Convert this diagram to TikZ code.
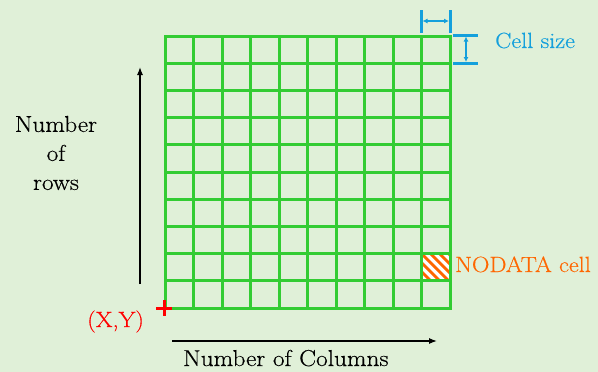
\documentclass[tikz,border=0pt]{standalone}
\usepackage{fontspec}
\setmainfont{Latin Modern Roman}[FakeStretch=1.1, FakeBold=0.4]
\usetikzlibrary{arrows.meta}
\definecolor{bg}{RGB}{224,240,216}
\definecolor{gridgreen}{RGB}{51,204,51}
\definecolor{cellblue}{RGB}{20,160,220}
\definecolor{nodataorange}{RGB}{255,102,0}
\definecolor{originred}{RGB}{255,0,0}
\begin{document}
\begin{tikzpicture}[x=1pt,y=-1pt,
  gridline/.style={gridgreen, line width=3pt},
  txt/.style={inner sep=0pt, font=\fontsize{23}{29}\selectfont},
  ctxt/.style={inner sep=0pt, font=\fontsize{22}{27}\selectfont},
  axisarrow/.style={-{Latex[length=8pt,width=6pt]}, line width=1.2pt, black},
  dimbar/.style={cellblue, line width=3pt},
  dimarrow/.style={{Latex[length=5pt,width=5pt]}-{Latex[length=5pt,width=5pt]}, cellblue, line width=1.2pt}]
\fill[bg] (0,0) rectangle (598,372);
\useasboundingbox (0,0) rectangle (598,372);
% NODATA hatched cell
\begin{scope}
  \clip (421.5,253.6) rectangle (450,280.8);
  \fill[white] (421.5,253.6) rectangle (450,280.8);
  \foreach \o in {-36,-27,...,27}
    \draw[nodataorange, line width=2.8pt] (421.5+\o,253.6) -- ++(30,30);
\end{scope}
% grid
\foreach \i in {1,...,9}
  \draw[gridline] (165+28.5*\i,36) -- (165+28.5*\i,308);
\foreach \j in {1,...,9}
  \draw[gridline] (165,36+27.2*\j) -- (450,36+27.2*\j);
\draw[gridline] (165,36) rectangle (450,308);
% origin mark
\draw[originred, line width=3pt] (156,308) -- (172,308) (164,300) -- (164,316);
% axis arrows
\coordinate (rowsFrom) at (140,284);
\coordinate (rowsTo) at (140,67);
\draw[axisarrow] (rowsFrom) -- (rowsTo);
\coordinate (colsFrom) at (172,341);
\coordinate (colsTo) at (437,341);
\draw[axisarrow] (colsFrom) -- (colsTo);
% cell size dimension marks
\draw[dimbar] (421,10) -- (421,33) (450.5,10) -- (450.5,33);
\coordinate (hL) at (422.5,21);
\coordinate (hR) at (449,21);
\draw[dimarrow] (hL) -- (hR);
\draw[dimbar] (453,35) -- (478,35) (453,63.5) -- (478,63.5);
\coordinate (vT) at (466,36.5);
\coordinate (vB) at (466,62);
\draw[dimarrow] (vT) -- (vB);
% labels
\node[ctxt, text=cellblue, anchor=base west] (cellsize) at (495,48) {Cell size};
\node[ctxt, text=nodataorange, anchor=base west] (nodata) at (455,272) {NODATA cell};
\node[ctxt, text=originred, anchor=base west] (origin) at (87,327) {(X,Y)};
\node[txt, anchor=base west] (cols) at (183,366) {Number of Columns};
\node[txt, align=center] (rows) at (56,153) {Number\\of\\rows};
\end{tikzpicture}
\end{document}
